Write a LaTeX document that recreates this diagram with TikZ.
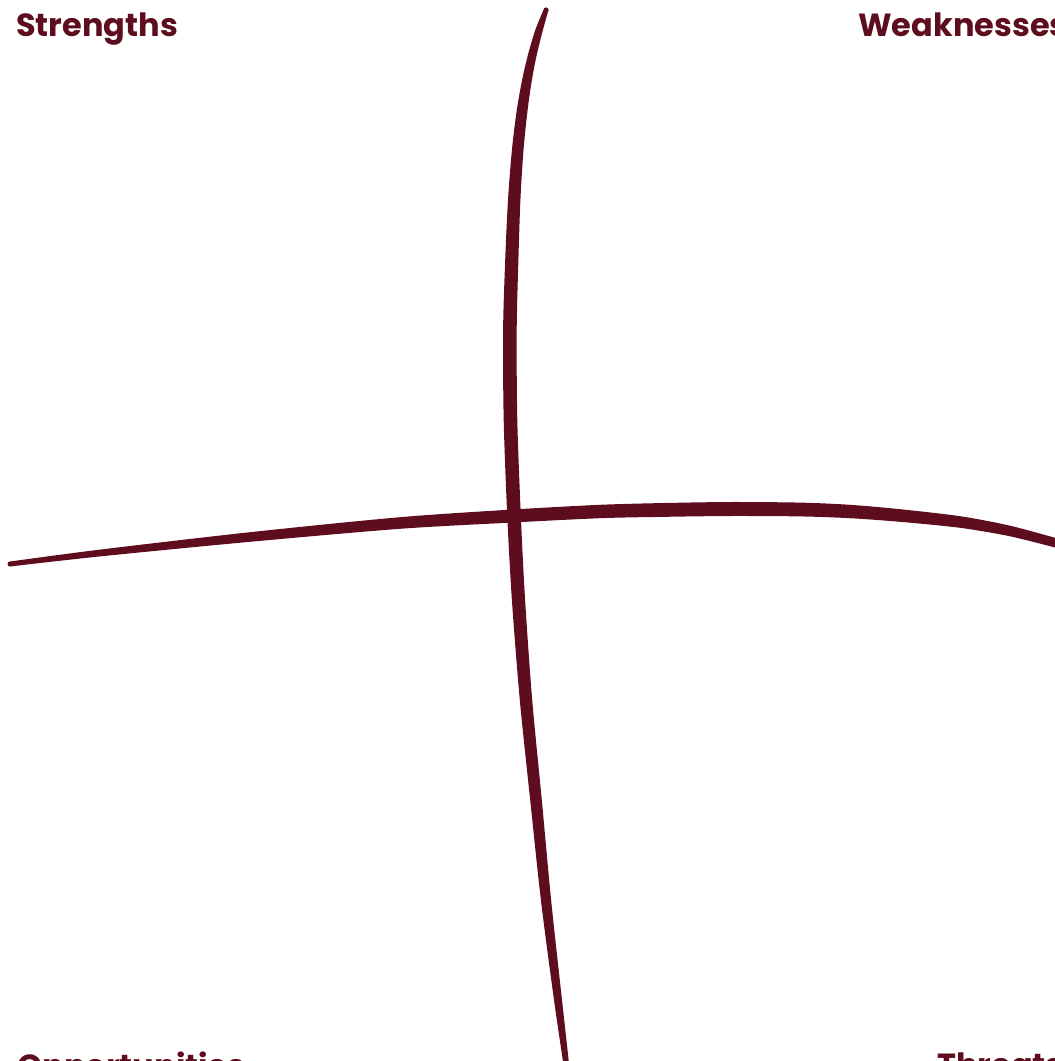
\documentclass[tikz,border=0pt]{standalone}
\usepackage{fontspec}
\setmainfont{Poppins}
\definecolor{maroon}{RGB}{94,13,30}
\tikzset{
  lbl/.style={anchor=base west, inner sep=0pt, text=maroon, font=\fontsize{32}{36}\selectfont\bfseries},
  ink/.style={fill=maroon, draw=none}
}
\begin{document}
\begin{tikzpicture}[x=1pt,y=-1pt]
\useasboundingbox (0,0) rectangle (1055,1061);
% vertical hand-drawn stroke
\fill[ink] plot[smooth] coordinates {(543.5,10) (535.3,30) (527.9,55) (522.1,80) (516.8,110) (511.9,150) (508,200) (505.2,260) (503.1,330) (503.7,420) (507.2,515) (511.9,600) (519.8,700) (530.2,800) (540.9,900) (554,1000) (563.7,1066)}
  -- plot[smooth] coordinates {(569.3,1066) (562,1000) (551.1,900) (541.8,800) (532.2,700) (525.1,600) (520.8,515) (517.3,420) (516.7,330) (518.4,260) (520.4,200) (523.5,150) (527.6,110) (531.9,80) (536.7,55) (542.9,30) (548.5,10)} -- cycle;
\fill[ink] (546,10) circle (2.6);
% horizontal hand-drawn stroke
\fill[ink] plot[smooth] coordinates {(10,561.5) (100,549.6) (250,532.2) (400,517.2) (513,509.5) (600,504.8) (660,503.1) (730,502) (800,502.6) (850,504.8) (900,509.2) (960,516.2) (1010,525.7) (1060,539.2)}
  -- plot[smooth] coordinates {(1060,548.8) (1010,536.3) (960,527.8) (900,521.8) (850,518.2) (800,516.4) (730,516) (660,516.9) (600,518.2) (513,522.5) (400,528.8) (250,541.8) (100,556.4) (10,566.5)} -- cycle;
\fill[ink] (10,564) circle (2.5);
% labels
\node[lbl] (s) at (16,36) {Strengths};
\node[lbl] (w) at (858,36) {Weaknesses};
\node[lbl] (o) at (17,1077) {Opportunities};
\node[lbl] (t) at (937,1076) {Threats};
\end{tikzpicture}
\end{document}
